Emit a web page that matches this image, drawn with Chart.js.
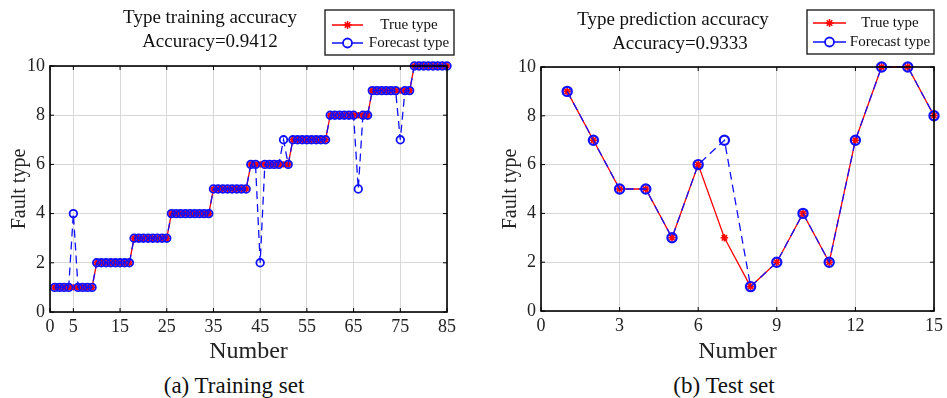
<!DOCTYPE html>
<html>
<head>
<meta charset="utf-8">
<script src="https://cdn.jsdelivr.net/npm/chart.js@4.4.1/dist/chart.umd.min.js"></script>
<style>
  body { margin: 0; background: #fff; width: 947px; height: 398px; position: relative; overflow: hidden; font-family: 'Liberation Serif', 'Times New Roman', serif; }
  .box { position: absolute; top: 0; height: 370px; }
  .cap { position: absolute; top: 372px; font-size: 23px; line-height: 28px; color: #111; text-align: center; width: 260px; }
</style>
</head>
<body>
<div class="box" style="left:0;width:470px"><canvas id="trainChart" width="470" height="370"></canvas></div>
<div class="box" style="left:480px;width:467px"><canvas id="testChart" width="467" height="370"></canvas></div>
<div class="cap" style="left:104px">(a) Training set</div>
<div class="cap" style="left:594px">(b) Test set</div>
<script>
// training set: sample 1..85
const trueTrain = [
  1, 1, 1, 1, 1, 1, 1, 1, 1,
  2, 2, 2, 2, 2, 2, 2, 2,
  3, 3, 3, 3, 3, 3, 3, 3,
  4, 4, 4, 4, 4, 4, 4, 4, 4,
  5, 5, 5, 5, 5, 5, 5, 5,
  6, 6, 6, 6, 6, 6, 6, 6, 6,
  7, 7, 7, 7, 7, 7, 7, 7,
  8, 8, 8, 8, 8, 8, 8, 8, 8,
  9, 9, 9, 9, 9, 9, 9, 9, 9,
  10, 10, 10, 10, 10, 10, 10, 10
];
const forecastTrain = [
  1, 1, 1, 1, 4, 1, 1, 1, 1,
  2, 2, 2, 2, 2, 2, 2, 2,
  3, 3, 3, 3, 3, 3, 3, 3,
  4, 4, 4, 4, 4, 4, 4, 4, 4,
  5, 5, 5, 5, 5, 5, 5, 5,
  6, 6, 2, 6, 6, 6, 6, 7, 6,
  7, 7, 7, 7, 7, 7, 7, 7,
  8, 8, 8, 8, 8, 8, 5, 8, 8,
  9, 9, 9, 9, 9, 9, 7, 9, 9,
  10, 10, 10, 10, 10, 10, 10, 10
];
const trainXTicks = [0, 5, 15, 25, 35, 45, 55, 65, 75, 85];

// test set: sample 1..15
const trueTest = [9, 7, 5, 5, 3, 6, 3, 1, 2, 4, 2, 7, 10, 10, 8];
const forecastTest = [9, 7, 5, 5, 3, 6, 7, 1, 2, 4, 2, 7, 10, 10, 8];
const testXTicks = [0, 3, 6, 9, 12, 15];

const yTicks = [0, 2, 4, 6, 8, 10];

const serif = "'Liberation Serif', 'Times New Roman', serif";
const RED = '#ff0000';
const BLUE = '#1010ff';

const toPoints = arr => arr.map((v, i) => ({ x: i + 1, y: v }));

// matlab style frame, inward ticks, titles and legend box
const matlabFrame = {
  id: 'matlabFrame',
  afterDraw(chart, args, opts) {
    const ctx = chart.ctx;
    const a = chart.chartArea;
    const xs = chart.scales.x, ys = chart.scales.y;
    ctx.save();
    ctx.strokeStyle = '#000';
    ctx.lineWidth = 1;
    ctx.beginPath();
    xs.ticks.forEach(t => {
      const px = xs.getPixelForValue(t.value);
      ctx.moveTo(px, a.bottom); ctx.lineTo(px, a.bottom - 4);
      ctx.moveTo(px, a.top); ctx.lineTo(px, a.top + 4);
    });
    ys.ticks.forEach(t => {
      const py = ys.getPixelForValue(t.value);
      ctx.moveTo(a.left, py); ctx.lineTo(a.left + 4, py);
      ctx.moveTo(a.right, py); ctx.lineTo(a.right - 4, py);
    });
    ctx.stroke();
    ctx.lineWidth = 1.6;
    ctx.strokeRect(a.left, a.top, a.right - a.left, a.bottom - a.top);

    ctx.fillStyle = '#111';
    ctx.font = '19px ' + serif;
    ctx.textAlign = 'center';
    ctx.textBaseline = 'middle';
    opts.titles.forEach(t => ctx.fillText(t.text, t.x, t.y));

    const L = opts.legend;
    ctx.fillStyle = '#fff';
    ctx.fillRect(L.x, L.y, L.w, L.h);
    ctx.lineWidth = 1.4;
    ctx.strokeStyle = '#222';
    ctx.strokeRect(L.x, L.y, L.w, L.h);
    ctx.font = '15px ' + serif;
    L.rows.forEach(r => {
      ctx.strokeStyle = r.color;
      ctx.lineWidth = 1.5;
      ctx.beginPath();
      ctx.moveTo(L.lineX0, r.y); ctx.lineTo(L.lineX1, r.y);
      ctx.stroke();
      const mx = (L.lineX0 + L.lineX1) / 2;
      ctx.beginPath();
      if (r.marker === 'star') {
        const s = 4;
        ctx.moveTo(mx - s, r.y); ctx.lineTo(mx + s, r.y);
        ctx.moveTo(mx, r.y - s); ctx.lineTo(mx, r.y + s);
        ctx.moveTo(mx - s * 0.7, r.y - s * 0.7); ctx.lineTo(mx + s * 0.7, r.y + s * 0.7);
        ctx.moveTo(mx - s * 0.7, r.y + s * 0.7); ctx.lineTo(mx + s * 0.7, r.y - s * 0.7);
        ctx.stroke();
      } else {
        ctx.fillStyle = '#fff';
        ctx.arc(mx, r.y, 4.5, 0, Math.PI * 2);
        ctx.fill();
        ctx.lineWidth = 1.8;
        ctx.stroke();
      }
      ctx.fillStyle = '#111';
      ctx.fillText(r.text, L.textX, r.y);
    });
    ctx.restore();
  }
};

function makeChart(id, opts) {
  return new Chart(document.getElementById(id), {
    type: 'line',
    data: {
      datasets: [
        {
          label: 'True type',
          data: toPoints(opts.trueVals),
          borderColor: RED,
          borderWidth: 1.3,
          pointStyle: 'star',
          pointRadius: opts.starR,
          pointBorderColor: RED,
          pointBackgroundColor: RED,
          pointBorderWidth: 1.6,
          clip: false,
          order: 1
        },
        {
          label: 'Forecast type',
          data: toPoints(opts.forecastVals),
          borderColor: BLUE,
          borderWidth: 1.3,
          borderDash: [8, 5],
          pointStyle: 'circle',
          pointRadius: opts.circleR,
          pointBorderColor: BLUE,
          pointBackgroundColor: 'rgba(0,0,0,0)',
          pointBorderWidth: opts.circleW,
          clip: false,
          order: 0
        }
      ]
    },
    options: {
      responsive: false,
      animation: false,
      layout: { padding: opts.padding },
      plugins: {
        legend: { display: false },
        tooltip: { enabled: false },
        matlabFrame: { titles: opts.titles, legend: opts.legend }
      },
      scales: {
        x: {
          type: 'linear',
          min: opts.xMin,
          max: opts.xMax,
          afterBuildTicks: s => { s.ticks = opts.xTicks.map(v => ({ value: v })); },
          afterFit: s => { s.height = opts.xHeight; },
          grid: { color: '#d8d8d8', lineWidth: 1, drawTicks: false },
          border: { display: false },
          ticks: { color: '#222', font: { family: serif, size: 18 }, padding: 4, autoSkip: false, maxRotation: 0 },
          title: { display: true, text: 'Number', color: '#222', font: { family: serif, size: 24 }, padding: { top: 0, bottom: 4 } }
        },
        y: {
          min: 0,
          max: 10,
          afterBuildTicks: s => { s.ticks = yTicks.map(v => ({ value: v })); },
          afterFit: s => { s.width = 50; },
          grid: { color: '#d8d8d8', lineWidth: 1, drawTicks: false },
          border: { display: false },
          ticks: { color: '#222', font: { family: serif, size: 18 }, padding: 5 },
          title: { display: true, text: 'Fault type', color: '#222', font: { family: serif, size: 20 }, padding: { top: 8, bottom: 0 } }
        }
      }
    },
    plugins: [matlabFrame]
  });
}

makeChart('trainChart', {
  trueVals: trueTrain,
  forecastVals: forecastTrain,
  xMin: 0, xMax: 85, xTicks: trainXTicks,
  starR: 3.2, circleR: 3.8, circleW: 1.8,
  padding: { top: 66, right: 23, left: 0, bottom: 0 },
  xHeight: 58,
  titles: [
    { text: 'Type training accuracy', x: 210, y: 18 },
    { text: 'Accuracy=0.9412', x: 210, y: 42 }
  ],
  legend: {
    x: 325, y: 10, w: 129, h: 45, lineX0: 332, lineX1: 363, textX: 409,
    rows: [
      { text: 'True type', color: RED, marker: 'star', y: 25 },
      { text: 'Forecast type', color: BLUE, marker: 'circle', y: 43 }
    ]
  }
});

makeChart('testChart', {
  trueVals: trueTest,
  forecastVals: forecastTest,
  xMin: 0, xMax: 15, xTicks: testXTicks,
  starR: 3.8, circleR: 4.6, circleW: 2.2,
  padding: { top: 67, right: 10, left: 11, bottom: 0 },
  xHeight: 59,
  titles: [
    { text: 'Type prediction accuracy', x: 193, y: 20 },
    { text: 'Accuracy=0.9333', x: 200, y: 44 }
  ],
  legend: {
    x: 327, y: 10, w: 127, h: 44, lineX0: 333, lineX1: 366, textX: 410,
    rows: [
      { text: 'True type', color: RED, marker: 'star', y: 23 },
      { text: 'Forecast type', color: BLUE, marker: 'circle', y: 42 }
    ]
  }
});
</script>
</body>
</html>
